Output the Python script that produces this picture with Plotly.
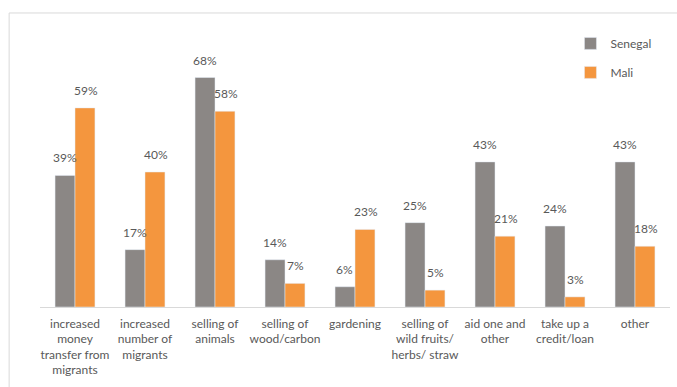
import plotly.graph_objects as go

categories = [
    "increased<br>money<br>transfer from<br>migrants",
    "increased<br>number of<br>migrants",
    "selling of<br>animals",
    "selling of<br>wood/carbon",
    "gardening",
    "selling of<br>wild fruits/<br>herbs/ straw",
    "aid one and<br>other",
    "take up a<br>credit/loan",
    "other",
]
senegal = [39, 17, 68, 14, 6, 25, 43, 24, 43]
mali = [59, 40, 58, 7, 23, 5, 21, 3, 18]

font_family = "Lato, 'Open Sans', sans-serif"
text_color = "#595959"

fig = go.Figure()
fig.add_trace(go.Bar(
    name="Senegal", x=categories, y=senegal, legendgroup="s",
    marker=dict(color="#8B8785"),
))
fig.add_trace(go.Bar(
    name="Mali", x=categories, y=mali, legendgroup="m",
    marker=dict(color="#F4963E"),
))

annotations = []
for series, shift in ((senegal, -10.5), (mali, 10.5)):
    for cat, v in zip(categories, series):
        annotations.append(dict(
            x=cat, y=v, xref="x", yref="y", text=f"{v}%",
            showarrow=False, xshift=shift, yshift=8, yanchor="bottom",
            font=dict(size=12, color=text_color, family=font_family),
        ))

fig.update_layout(
    width=677, height=387,
    margin=dict(l=40, r=7, t=37, b=80),
    paper_bgcolor="white", plot_bgcolor="white",
    barmode="group", bargap=0.43, bargroupgap=0,
    font=dict(family=font_family, size=12, color=text_color),
    showlegend=True,
    legend=dict(
        x=0.842, y=1.03, xanchor="left", yanchor="top",
        font=dict(size=12, color=text_color),
        tracegroupgap=10, itemwidth=30, traceorder="grouped",
        bgcolor="rgba(0,0,0,0)",
    ),
    xaxis=dict(
        showline=True, linecolor="#D9D9D9", linewidth=1.3,
        ticks="", showgrid=False, ticklabelstandoff=5,
        tickfont=dict(size=12, color=text_color),
    ),
    yaxis=dict(
        range=[0, 80], visible=False, showgrid=False,
    ),
    annotations=annotations,
    shapes=[
        dict(type="rect", xref="paper", yref="paper",
             x0=-0.049, x1=1.2, y0=-0.5, y1=1.089,
             line=dict(color="#D9D9D9", width=1), fillcolor="rgba(0,0,0,0)",
             layer="below"),
    ],
)
fig.write_html("out.html", config={"displayModeBar": False},
               post_script="document.body.style.margin='0';window.dispatchEvent(new Event('resize'));")
